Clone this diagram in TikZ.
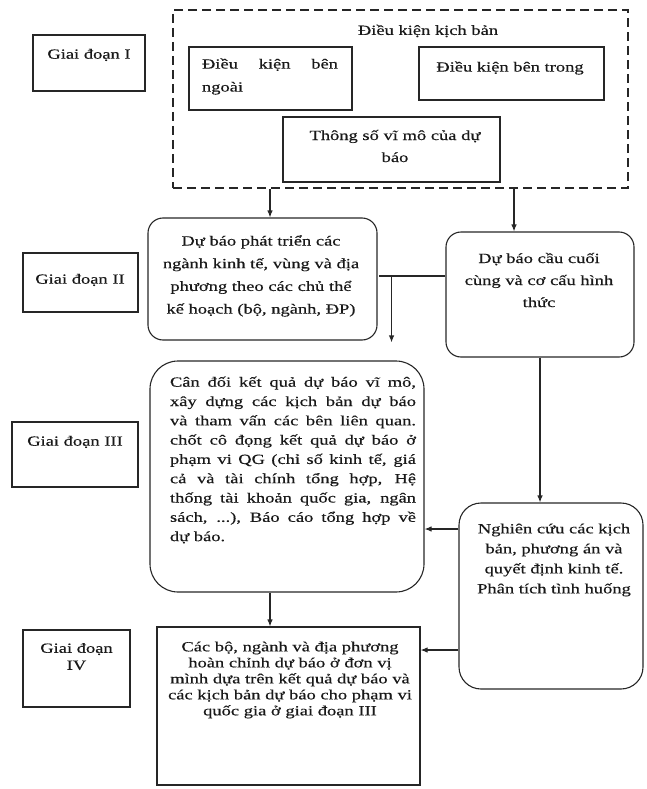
\documentclass[tikz,border=0pt]{standalone}
\usepackage{fontspec}
\setmainfont{Liberation Serif}[FakeStretch=1.32, FakeBold=0.4]
\usetikzlibrary{arrows.meta, calc}

\begin{document}
\begin{tikzpicture}[x=1pt, y=-1pt,
  box/.style={draw=black!85, line width=1.1pt, inner sep=0pt},
  rbox/.style={box, rounded corners=15pt},
  txt/.style={inner sep=0pt, align=center, text=black!90, font=\fontsize{14}{16}\selectfont},
  arr/.style={draw=black!85, line width=1.1pt, -{Latex[length=7pt, width=5.5pt]}}]
  \useasboundingbox (0,0) rectangle (646,789);

  % Stage I: scenario conditions
  \node[box, dash pattern=on 9pt off 5pt, minimum width=455, minimum height=178] (frame) at (400.5,99) {};
  \node[txt] (title) at (428,31) {Điều kiện kịch bản};
  \node[box, minimum width=163, minimum height=63] (ngoai) at (270.5,78.5) {};
  \node[txt, align=justify, text width=136, font=\fontsize{14}{23}\selectfont] (ngoait) at (270,76.5) {Điều kiện bên\linebreak ngoài};
  \node[box, minimum width=185, minimum height=53] (trong) at (511.5,73.5) {};
  \node[txt] (trongt) at (510,68) {Điều kiện bên trong};
  \node[box, minimum width=217, minimum height=65] (thongso) at (391.5,149.5) {};
  \node[txt, text width=200, font=\fontsize{14}{22}\selectfont] (thongsot) at (395,146) {Thông số vĩ mô của dự\\ báo};

  % Stage labels
  \node[box, minimum width=112, minimum height=56] (g1) at (89,63) {};
  \node[txt, text width=110] (g1t) at (89,55) {Giai đoạn I};
  \node[box, minimum width=115, minimum height=59] (g2) at (80.5,282.5) {};
  \node[txt, text width=110] (g2t) at (80,280) {Giai đoạn II};
  \node[box, minimum width=126, minimum height=65] (g3) at (75,454.5) {};
  \node[txt, text width=120] (g3t) at (75,442) {Giai đoạn III};
  \node[box, minimum width=107, minimum height=77] (g4) at (76.5,668.5) {};
  \node[txt, text width=100, font=\fontsize{14}{17}\selectfont] (g4t) at (76.5,656.5) {Giai đoạn\\ IV};

  % Stage II
  \node[rbox, minimum width=229, minimum height=122] (s2) at (262.5,279) {};
  \node[txt, text width=225, font=\fontsize{14}{22.7}\selectfont] (s2t) at (261,276) {Dự báo phát triển các\\ ngành kinh tế, vùng và địa\\ phương theo các chủ thể\\ kế hoạch (bộ, ngành, ĐP)};
  \node[rbox, minimum width=188, minimum height=125] (r1) at (540,294.5) {};
  \node[txt, text width=185, font=\fontsize{14}{22}\selectfont] (r1t) at (539,280) {Dự báo cầu cuối\\ cùng và cơ cấu hình\\ thức};

  % Stage III
  \node[box, rounded corners=28pt, minimum width=274, minimum height=231] (s3) at (287,476.5) {};
  \node[txt, align=justify, text width=246, font=\fontsize{14}{19.3}\selectfont] (s3t) at (293,460) {Cân đối kết quả dự báo vĩ mô,\linebreak xây dựng các kịch bản dự báo\linebreak và tham vấn các bên liên quan.\linebreak chốt cô đọng kết quả dự báo ở\linebreak phạm vi QG (chỉ số kinh tế, giá\linebreak cả và tài chính tổng hợp, Hệ\linebreak thống tài khoản quốc gia, ngân\linebreak sách, ...), Báo cáo tổng hợp về\linebreak dự báo.};
  \node[box, rounded corners=22pt, minimum width=184, minimum height=186] (r2) at (551,596) {};
  \node[txt, text width=182, font=\fontsize{14}{20}\selectfont] (r2t) at (554,560) {Nghiên cứu các kịch\\ bản, phương án và\\ quyết định kinh tế.\\ Phân tích tình huống};

  % Stage IV
  \node[box, minimum width=263, minimum height=158] (s4) at (288.5,706) {};
  \node[txt, text width=260] (s4t) at (290,680) {Các bộ, ngành và địa phương\\ hoàn chỉnh dự báo ở đơn vị\\ mình dựa trên kết quả dự báo và\\ các kịch bản dự báo cho phạm vi\\ quốc gia ở giai đoạn III};

  % Connectors
  \draw[arr] ($(frame.south -| s2.north)+(7.5,0)$) -- ($(s2.north)+(7.5,0)$);
  \draw[arr] ($(frame.south -| r1.north)+(-26,0)$) -- ($(r1.north)+(-26,0)$);
  \coordinate (jr) at ($(r1.west)+(0,-18.5)$);
  \coordinate (jl) at ($(s2.east |- jr)+(1,0)$);
  \coordinate (jd) at ($(jl)+(13,0)$);
  \draw[box] (jr) -- (jl);
  \draw[arr] (jd) -- ($(jd |- s3.north)+(0,-18)$);
  \draw[arr] (r1.south) -- (r2.north -| r1.south);
  \coordinate (r2a) at ($(r2.west)+(0,-67)$);
  \draw[arr] (r2a) -- (r2a -| s3.east);
  \coordinate (r2b) at ($(r2.west)+(0,54)$);
  \draw[arr] (r2b) -- (r2b -| s4.east);
  \coordinate (s3b) at ($(s3.south)+(-17,0)$);
  \draw[arr] (s3b) -- (s3b |- s4.north);
\end{tikzpicture}
\end{document}
